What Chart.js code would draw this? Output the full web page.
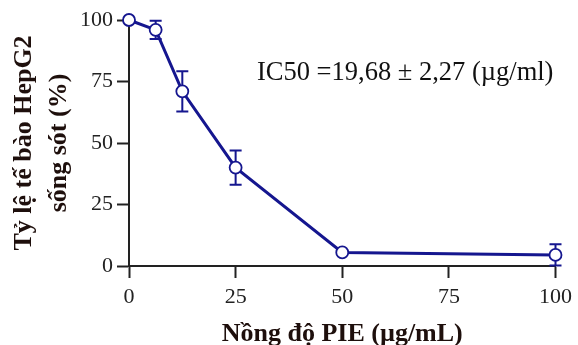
<!DOCTYPE html>
<html>
<head>
<meta charset="utf-8">
<script src="https://cdn.jsdelivr.net/npm/chart.js@4/dist/chart.umd.min.js"></script>
<style>
  html, body { margin: 0; padding: 0; background: #ffffff; }
  #wrap { width: 578px; height: 345px; position: relative; }
</style>
</head>
<body>
<div id="wrap"><canvas id="c" width="578" height="345"></canvas></div>
<script>
// ---- data ----
const concentrations = [0, 6.25, 12.5, 25, 50, 100];
const viability = [100, 96, 71, 40, 5.5, 4.5];
const viabilitySD = [0, 3.7, 8.2, 7.0, 0, 4.3];
const xTicks = [0, 25, 50, 75, 100];
const yTicks = [0, 25, 50, 75, 100];
const xTitle = 'Nồng độ PIE (µg/mL)';
const yTitle = ['Tỷ lệ tế bào HepG2', 'sống sót (%)'];
const annotationText = 'IC50 =19,68 ± 2,27 (µg/ml)';

const NAVY = '#15168f';
const AXIS = '#222222';
const TITLE = '#1e0f0c';
const SERIF = '"Liberation Serif", "Times New Roman", serif';

const errorBars = {
  id: 'errorBars',
  beforeDatasetsDraw(chart) {
    const ctx = chart.ctx;
    const xs = chart.scales.x, ys = chart.scales.y;
    ctx.save();
    ctx.strokeStyle = NAVY;
    ctx.lineWidth = 2;
    for (let i = 0; i < concentrations.length; i++) {
      const sd = viabilitySD[i];
      if (!sd) continue;
      const px = xs.getPixelForValue(concentrations[i]);
      const top = ys.getPixelForValue(viability[i] + sd);
      const bot = ys.getPixelForValue(viability[i] - sd);
      ctx.beginPath();
      ctx.moveTo(px, top); ctx.lineTo(px, bot);
      ctx.moveTo(px - 6, top); ctx.lineTo(px + 6, top);
      ctx.moveTo(px - 6, bot); ctx.lineTo(px + 6, bot);
      ctx.stroke();
    }
    ctx.restore();
  }
};

const annotation = {
  id: 'annotation',
  afterDraw(chart) {
    const ctx = chart.ctx;
    const xs = chart.scales.x, ys = chart.scales.y;
    ctx.save();
    ctx.font = '26.5px ' + SERIF;
    ctx.fillStyle = '#111111';
    ctx.textAlign = 'left';
    ctx.textBaseline = 'alphabetic';
    ctx.fillText(annotationText, xs.getPixelForValue(30), ys.getPixelForValue(75.5));
    ctx.restore();
  }
};

new Chart(document.getElementById('c'), {
  type: 'line',
  data: {
    datasets: [{
      data: concentrations.map((x, i) => ({ x: x, y: viability[i] })),
      borderColor: NAVY,
      borderWidth: 3,
      pointRadius: 6,
      pointBorderWidth: 1.8,
      pointBackgroundColor: '#ffffff',
      pointBorderColor: NAVY,
      tension: 0,
      clip: false
    }]
  },
  options: {
    responsive: false,
    animation: false,
    devicePixelRatio: 1,
    layout: { padding: { top: 20, right: 19, left: 0, bottom: 0 } },
    plugins: { legend: { display: false }, tooltip: { enabled: false } },
    scales: {
      x: {
        type: 'linear',
        min: 0, max: 100,
        afterFit(s) { s.height = 79; },
        afterBuildTicks(s) { s.ticks = xTicks.map(v => ({ value: v })); },
        border: { display: true, color: AXIS, width: 2 },
        grid: { display: true, drawOnChartArea: false, drawTicks: true, tickLength: 12, tickWidth: 2, tickColor: AXIS },
        ticks: { color: '#222222', font: { family: SERIF, size: 22 }, padding: 6, maxRotation: 0 },
        title: { display: true, text: xTitle, color: TITLE, font: { family: SERIF, size: 26, weight: 'bold', lineHeight: 0.85 }, padding: 0 }
      },
      y: {
        type: 'linear',
        min: 0, max: 100,
        afterFit(s) { s.width = 129; },
        afterBuildTicks(s) { s.ticks = yTicks.map(v => ({ value: v })); },
        border: { display: true, color: AXIS, width: 2 },
        grid: { display: true, drawOnChartArea: false, drawTicks: true, tickLength: 12, tickWidth: 2, tickColor: AXIS },
        ticks: { color: '#222222', font: { family: SERIF, size: 22 }, padding: 4 },
        title: { display: true, text: yTitle, color: TITLE, font: { family: SERIF, size: 26, weight: 'bold', lineHeight: 1.35 }, padding: { top: 6.5, bottom: 0 } }
      }
    }
  },
  plugins: [errorBars, annotation]
});
</script>
</body>
</html>
